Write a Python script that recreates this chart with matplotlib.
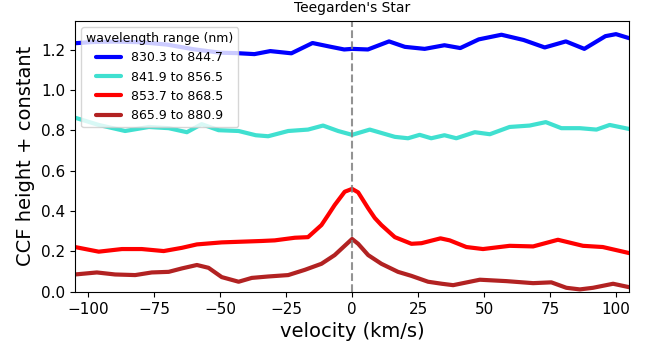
import numpy as np
import matplotlib
matplotlib.use("Agg")
import matplotlib.pyplot as plt

# velocity samples (km/s) and CCF heights
v_blue = [-105, -98, -90, -80, -70, -60, -50, -44, -37, -31, -23, -15, -8, -3, 0, 6,
          14, 20, 27.5, 35, 41, 48, 56.6, 65, 73, 81, 88, 96, 100, 105]
h_blue = [1.232, 1.238, 1.240, 1.237, 1.225, 1.202, 1.185, 1.183, 1.178, 1.193, 1.182, 1.233, 1.214, 1.201, 1.204, 1.201,
          1.241, 1.214, 1.204, 1.222, 1.208, 1.251, 1.274, 1.248, 1.211, 1.241, 1.204, 1.267, 1.277, 1.257]

v_cyan = [-105, -96, -86, -77, -69.5, -62.6, -57, -50.6, -43, -36.5, -31.8, -24.2, -16.7, -11, -5.3, 0,
          6.7, 16.2, 21.2, 25.6, 30, 35, 39.5, 46.5, 52.2, 59.7, 67.3, 73.4, 79.3, 86.3, 92.6, 97.6, 105]
h_cyan = [0.863, 0.827, 0.797, 0.817, 0.811, 0.791, 0.831, 0.801, 0.797, 0.776, 0.771, 0.797, 0.804, 0.824, 0.797, 0.778,
          0.804, 0.768, 0.761, 0.778, 0.761, 0.776, 0.761, 0.791, 0.781, 0.817, 0.824, 0.841, 0.811, 0.811, 0.804, 0.827, 0.807]

v_red = [-105, -96, -87.2, -79.7, -71.4, -64.5, -58.8, -49.4, -34.2, -29.3, -21.7, -16.7, -11.6, -9.1, -6.6, -2.8, 0,
         2.3, 6.1, 8.6, 11.1, 16.2, 22.5, 26.3, 33.5, 37, 43.3, 49.6, 59.7, 68.6, 78, 87.5, 95, 105]
h_red = [0.222, 0.199, 0.212, 0.212, 0.202, 0.218, 0.235, 0.245, 0.252, 0.255, 0.268, 0.271, 0.331, 0.380, 0.430, 0.496, 0.510,
         0.493, 0.414, 0.366, 0.331, 0.271, 0.238, 0.241, 0.265, 0.255, 0.222, 0.212, 0.228, 0.225, 0.258, 0.228, 0.222, 0.192]

v_dred = [-105, -96.7, -89.8, -82.2, -75.9, -69.5, -64.5, -58.8, -54.4, -49.4, -43, -38, -31.8, -24.2, -17.9, -11.6,
          -6.6, 0, 2.3, 6.1, 11.1, 17.4, 22.5, 28.8, 34, 38.3, 48.4, 58.5, 68.6, 75.5, 81.2, 86.3, 91.3, 98.9, 105]
h_dred = [0.086, 0.096, 0.086, 0.083, 0.096, 0.099, 0.116, 0.133, 0.119, 0.073, 0.050, 0.069, 0.076, 0.083, 0.109, 0.139,
          0.182, 0.262, 0.238, 0.182, 0.139, 0.099, 0.079, 0.050, 0.040, 0.033, 0.060, 0.053, 0.043, 0.047, 0.020, 0.012, 0.020, 0.040, 0.023]

labels = ["830.3 to 844.7", "841.9 to 856.5", "853.7 to 868.5", "865.9 to 880.9"]
colors = ["blue", "turquoise", "red", "firebrick"]

fig = plt.figure(figsize=(6.52, 3.47), dpi=100)
ax = fig.add_axes([0.115, 0.159, 0.85, 0.781])

series = [(v_blue, h_blue), (v_cyan, h_cyan), (v_red, h_red), (v_dred, h_dred)]
for (v, h), lab, c in zip(series, labels, colors):
    ax.plot(v, h, color=c, lw=3, label=lab, solid_joinstyle="round", solid_capstyle="round")

ax.axvline(0, color="grey", ls="--", lw=1.5, alpha=0.85)

ax.set_xlim(-105, 105)
ax.set_ylim(0, 1.343)
ax.set_xticks(np.arange(-100, 101, 25))
ax.set_yticks(np.arange(0, 1.21, 0.2))
ax.tick_params(labelsize=11)
ax.set_xlabel("velocity (km/s)", fontsize=14)
ax.set_ylabel("CCF height + constant", fontsize=14)
ax.set_title("Teegarden's Star", fontsize=10)
ax.legend(loc="upper left", title="wavelength range (nm)", fontsize=9, title_fontsize=9)

fig.savefig("out.png", dpi=100)
